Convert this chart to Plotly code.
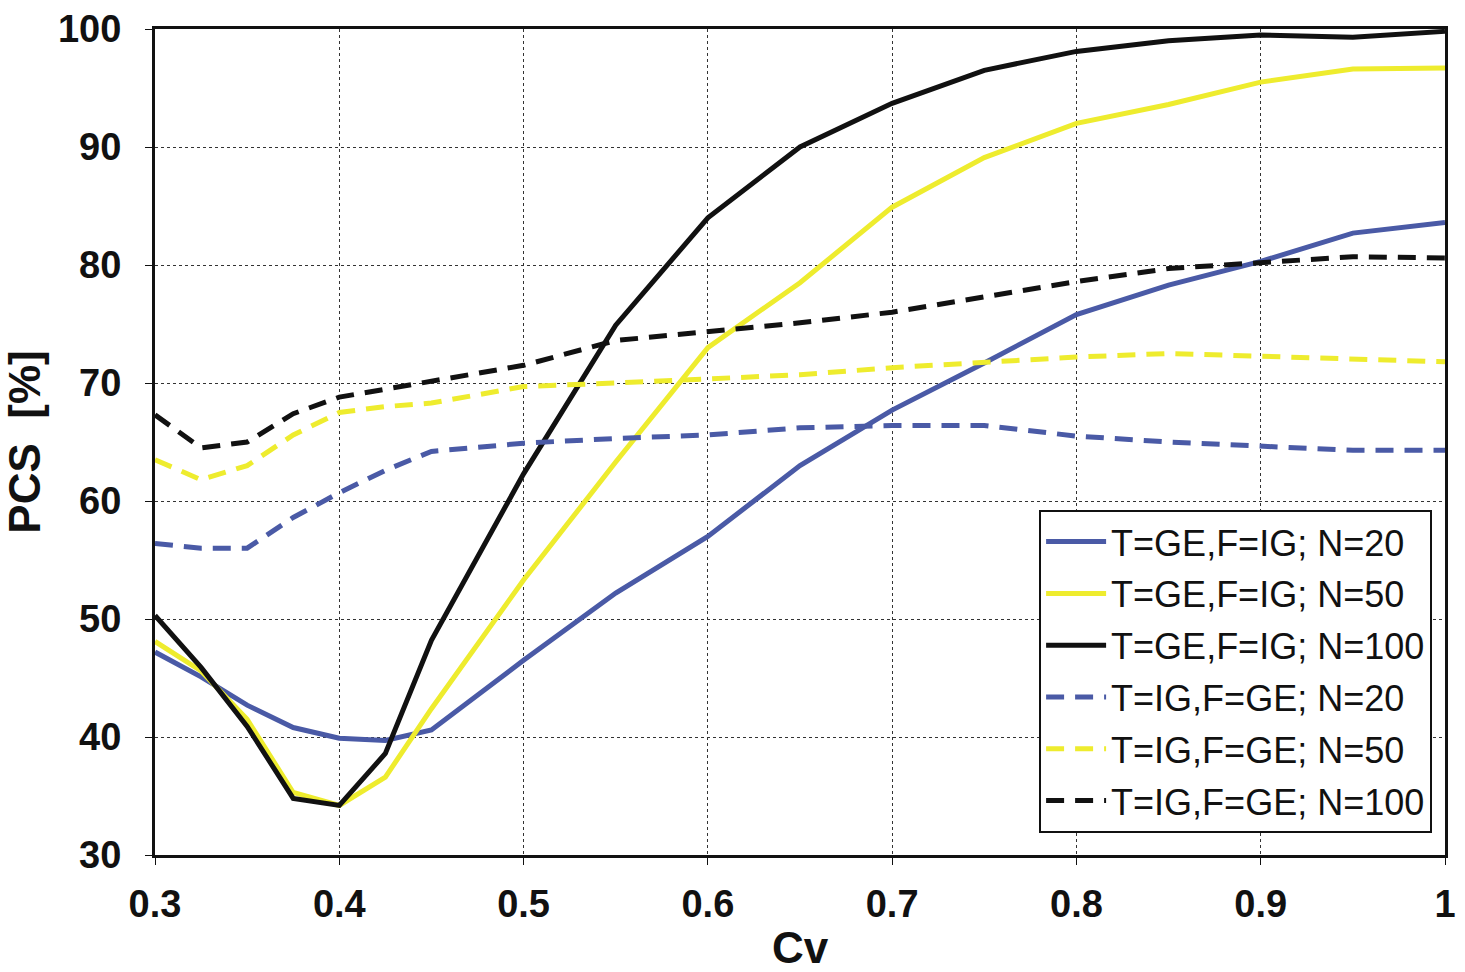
import plotly.graph_objects as go

cv = [0.3, 0.325, 0.35, 0.375, 0.4, 0.425, 0.45, 0.5, 0.55, 0.6, 0.65, 0.7, 0.75, 0.8, 0.85, 0.9, 0.95, 1.0]

ge_ig_n20 = [47.2, 45.1, 42.7, 40.8, 39.9, 39.7, 40.6, 46.5, 52.2, 57.0, 63.0, 67.7, 71.7, 75.8, 78.3, 80.3, 82.7, 83.6]
ge_ig_n50 = [48.1, 45.6, 41.5, 35.3, 34.2, 36.6, 42.4, 53.3, 63.3, 73.0, 78.5, 84.9, 89.1, 92.0, 93.6, 95.5, 96.6, 96.7]
ge_ig_n100 = [50.3, 45.9, 40.9, 34.8, 34.2, 38.6, 48.2, 62.3, 74.9, 84.0, 90.0, 93.7, 96.5, 98.1, 99.0, 99.5, 99.3, 99.8]
ig_ge_n20 = [56.4, 56.0, 56.0, 58.6, 60.7, 62.6, 64.2, 64.9, 65.3, 65.6, 66.2, 66.4, 66.4, 65.5, 65.0, 64.7, 64.3, 64.3]
ig_ge_n50 = [63.5, 61.8, 63.0, 65.6, 67.5, 68.0, 68.3, 69.7, 70.0, 70.3, 70.7, 71.3, 71.8, 72.2, 72.5, 72.3, 72.1, 71.8]
ig_ge_n100 = [67.3, 64.5, 65.0, 67.4, 68.8, 69.5, 70.2, 71.5, 73.6, 74.3, 75.1, 76.0, 77.3, 78.6, 79.7, 80.2, 80.7, 80.6]

names = ["T=GE,F=IG; N=20", "T=GE,F=IG; N=50", "T=GE,F=IG; N=100",
         "T=IG,F=GE; N=20", "T=IG,F=GE; N=50", "T=IG,F=GE; N=100"]
series = [ge_ig_n20, ge_ig_n50, ge_ig_n100, ig_ge_n20, ig_ge_n50, ig_ge_n100]
colors = ["#4a5aa6", "#eeec2e", "#111111", "#4a5aa6", "#eeec2e", "#111111"]
dashes = ["solid", "solid", "solid", "18px,11px", "18px,11px", "18px,11px"]

fig = go.Figure()
for i, (nm, ys, c, d) in enumerate(zip(names, series, colors, dashes)):
    fig.add_trace(go.Scatter(x=cv, y=ys, mode="lines", name=nm, legendgroup=f"g{i}",
                             line=dict(color=c, width=5, dash=d)))

font_main = "Arial, Liberation Sans, sans-serif"
fig.update_layout(
    width=1465, height=972,
    margin=dict(l=155, r=20, t=29, b=117, autoexpand=False),
    paper_bgcolor="white", plot_bgcolor="white",
    font=dict(family=font_main, color="#111"),
    showlegend=True,
    legend=dict(x=0.99, y=0.027, xanchor="right", yanchor="bottom",
                bgcolor="white", bordercolor="#111", borderwidth=2,
                font=dict(size=36, family=font_main, color="#111"),
                tracegroupgap=2, itemwidth=60),
)
fig.update_xaxes(
    range=[0.3, 1.0], tickvals=[0.3, 0.4, 0.5, 0.6, 0.7, 0.8, 0.9, 1.0],
    ticktext=["0.3", "0.4", "0.5", "0.6", "0.7", "0.8", "0.9", "1"],
    showline=True, linecolor="#111", linewidth=3, mirror=True,
    ticks="outside", ticklen=7, tickcolor="#111", ticklabelstandoff=6,
    showgrid=True, gridcolor="#333", griddash="dot", gridwidth=1.2,
    tickfont=dict(size=38, family=font_main, color="#111", weight="bold"),
    title=dict(text="<b>Cv</b>", font=dict(size=44, family=font_main), standoff=20),
    zeroline=False, automargin=False,
)
fig.update_yaxes(
    range=[30, 100], tickvals=[30, 40, 50, 60, 70, 80, 90, 100],
    showline=True, linecolor="#111", linewidth=3, mirror=True,
    ticks="outside", ticklen=7, tickcolor="#111", ticklabelstandoff=16,
    showgrid=True, gridcolor="#333", griddash="dot", gridwidth=1.2,
    tickfont=dict(size=38, family=font_main, color="#111", weight="bold"),
    title=dict(text="<b>PCS  [%]</b>", font=dict(size=44, family=font_main), standoff=4),
    zeroline=False, automargin=False,
)
fig.write_html("out.html")
